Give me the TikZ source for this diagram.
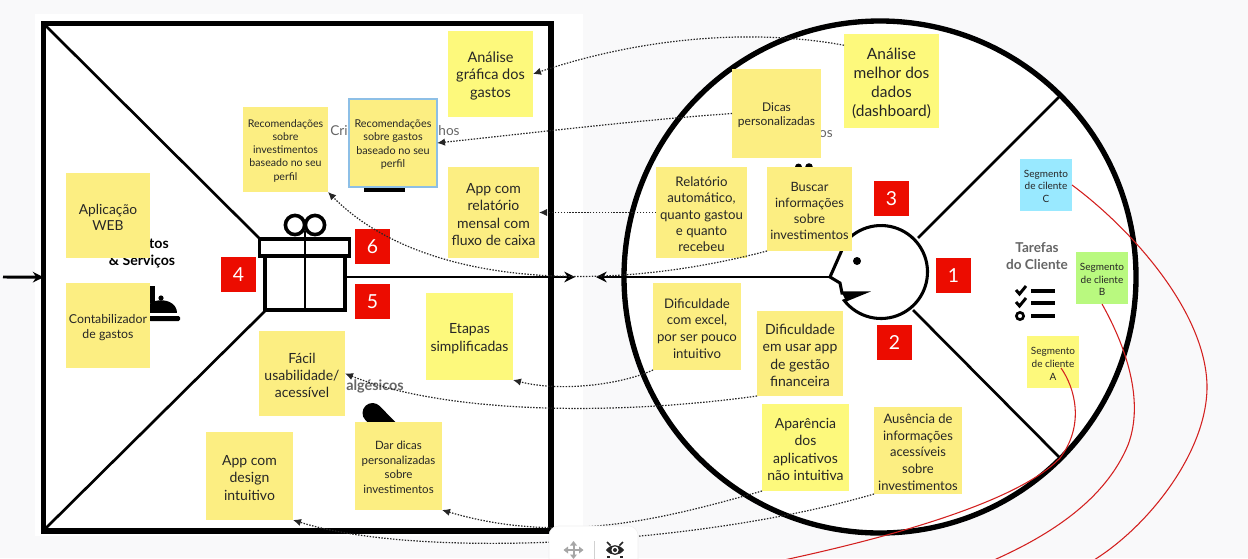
\documentclass[tikz,border=0pt]{standalone}
\usepackage{fontspec}
\setmainfont{Lato}
\usetikzlibrary{arrows.meta}
\definecolor{stickyA}{HTML}{FCEE82}
\definecolor{stickyB}{HTML}{FDF97C}
\definecolor{stickyC}{HTML}{99E9FF}
\definecolor{stickyD}{HTML}{B9F97F}
\definecolor{pagebg}{HTML}{F9F9FA}
\definecolor{redbox}{HTML}{EC0C00}
\definecolor{redline}{HTML}{D3201F}
\definecolor{bluebd}{HTML}{8DBFE6}
\definecolor{ghost}{HTML}{666666}
\tikzset{
  sticky/.style={inner sep=0pt,outer sep=0pt,align=center,text=black!85},
  dotlink/.style={draw=black!85,line width=.9pt,dash pattern=on 1.1pt off 1.1pt,-{Latex[length=6pt,width=5.5pt]}},
  redcurve/.style={draw=redline,line width=.8pt},
  heavyarrow/.style={draw=black,line width=2.2pt,-{Stealth[length=8pt,width=8pt]}},
  spoke/.style={draw=black,line width=2pt},
  ghosttext/.style={text=ghost,inner sep=0pt,font={\fontsize{10.2}{12}\selectfont}},
  boldtext/.style={text=black,inner sep=0pt,font={\fontsize{10.6}{12}\selectfont\bfseries}},
  numbox/.style={fill=redbox,text=white,inner sep=0pt,minimum width=26.25pt,minimum height=26.25pt,font={\fontsize{14.5}{16}\selectfont}},
  gift/.style={draw=black,line width=2.7pt,fill=white,inner sep=0pt}
}
\newcommand\sticky[8][stickyA]{%
  \pgfmathsetmacro\sx{(#3+#5)/2}\pgfmathsetmacro\sy{(#4+#6)/2}%
  \pgfmathsetlengthmacro\sw{(#5-#3)*0.75}\pgfmathsetlengthmacro\sh{(#6-#4)*0.75}%
  \pgfmathsetmacro\fa{#7*0.75}\pgfmathsetmacro\fb{#8*0.75}%
  \node[sticky,fill=#1,minimum width=\sw,minimum height=\sh,font={\fontsize{\fa}{\fb}\selectfont}] (#2) at (\sx,\sy) {\rule{0pt}{1em}\stickytext};%
}
\begin{document}
\begin{tikzpicture}[x=0.75pt,y=-0.75pt]
\useasboundingbox (0,0) rectangle (1248,558);
\clip (0,0) rectangle (1248,558);
\fill[pagebg] (0,0) rectangle (1248,558);
\fill[white] (35,14) rectangle (583,536);

% value map square and customer circle
\node[draw=black,line width=4.1pt,minimum width=380.6pt,minimum height=380.6pt,inner sep=0pt,outer sep=0pt] (vp) at (297.25,277.25) {};
\node[circle,draw=black,fill=white,line width=4pt,minimum size=384pt,inner sep=0pt,outer sep=0pt] (cs) at (880,277) {};

% diagonals
\coordinate (tl) at (46,26); \coordinate (bl) at (46,528);
\coordinate (dg1) at (260,239); \coordinate (dg2) at (265,311);
\draw[spoke] (tl) -- (dg1);
\draw[spoke] (bl) -- (dg2);
\coordinate (sp1a) at (918,238); \coordinate (sp1b) at (1062,94);
\coordinate (sp2a) at (913,310); \coordinate (sp2b) at (1061,459);
\draw[spoke] (sp1a) -- (sp1b);
\draw[spoke] (sp2a) -- (sp2b);

% gift icon
\draw[black,line width=2.7pt] (295,225) circle[radius=9.6];
\draw[black,line width=2.7pt] (315,225) circle[radius=9.6];
\node[gift,minimum width=60pt,minimum height=40.5pt] (giftbody) at (305,283) {};
\node[gift,minimum width=67.5pt,minimum height=12.5pt] (giftlid) at (304.5,247.5) {};
\coordinate (rib1) at (305,231); \coordinate (rib2) at (305,310);
\draw[black,line width=2.2pt] (rib1) -- (rib2);

% face
\draw[black,line width=2.3pt,fill=white,line join=miter]
  plot[smooth,samples=60,domain=219:502] ({881+46.5*cos(\x)},{272+46.5*sin(\x)})
  -- (863,293) -- (842,293) -- (840,283) -- (830,277) -- (845,243);
\fill[black] (845,299) -- (863,293) -- (842,293) -- cycle;
\fill[black] (857,261) circle[radius=4];
\coordinate (nose) at (830,277);

% main arrows
\coordinate (tipR) at (575,277); \coordinate (tipL) at (596,277);
\coordinate (startL) at (3,277);
\draw[heavyarrow] (giftbody.east |- tipR) -- (tipR);
\draw[heavyarrow] (nose) -- (tipL);
\draw[heavyarrow] (startL) -- (vp.west);

% fragments of the template under the notes
\node[ghosttext] (t1) at (339,131) {Cri};
\node[ghosttext] (t2) at (449,131) {hos};
\node[ghosttext] (t3) at (826,134) {os};
\node[ghosttext,font={\fontsize{10.8}{12}\selectfont\bfseries}] (t4) at (375,386) {algésicos};
\node[boldtext] (t5) at (159,244) {tos};
\node[boldtext] (t6) at (142,262) {\& Serviços};
\node[ghosttext,align=center,font={\fontsize{10.2}{12.6}\selectfont\bfseries}] (t7) at (1037,256) {Tarefas\\do Cliente};

% template icons
\fill[black] (364,185) rectangle (405,192);
\fill[black] (798.5,167) circle[radius=3.5];
\fill[black] (809,167) circle[radius=3.8];
\fill[black] (150,286) rectangle (155,303);
\fill[black] (145,313) .. controls (145,296) and (177,296) .. (177,313) -- cycle;
\fill[black] (161,298) circle[radius=2.6];
\fill[black,rounded corners=1pt] (149,316) rectangle (180,321);
\draw[black,line width=15pt,line cap=round] (372.5,413) -- (395,436);

% checklist icon
\draw[black,line width=2.2pt] (1016,290) -- (1019.5,294) -- (1026,286);
\draw[black,line width=2.2pt] (1016,302) -- (1019.5,306) -- (1026,298);
\draw[black,line width=2pt] (1020,316) circle[radius=3.6];
\draw[black,line width=2.5pt] (1031,291) -- (1055,291);
\draw[black,line width=2.5pt] (1031,303) -- (1055,303);
\draw[black,line width=2.5pt] (1031,316) -- (1055,316);

% numbers
\node[numbox] (n1) at (953.5,275.5) {1};
\node[numbox] (n2) at (894.5,342.5) {2};
\node[numbox] (n3) at (891.5,198.5) {3};
\node[numbox] (n4) at (238.5,274.5) {4};
\node[numbox] (n5) at (372.5,301.5) {5};
\node[numbox] (n6) at (372.5,246.5) {6};

% sticky notes
\def\stickytext{Análise\\gráfica dos\\gastos}\sticky[stickyB]{anagraf}{448}{31}{533}{117}{14.5}{17.5}
\def\stickytext{Recomendações\\sobre\\investimentos\\baseado no seu\\perfil}\sticky{recinv}{243}{107}{328}{192}{10.6}{13.1}
\def\stickytext{Recomendações\\sobre gastos\\baseado no seu\\perfil}\sticky{recgas}{349}{99}{437}{187}{10.8}{13.5}
\draw[bluebd,line width=1.1pt] (recgas.south west) rectangle (recgas.north east);
\def\stickytext{Aplicação\\WEB}\sticky{appweb}{66}{173}{150}{258}{13.8}{16.7}
\def\stickytext{Contabilizador\\de gastos}\sticky{contab}{66}{283}{150}{368}{12.3}{15}
\def\stickytext{Fácil\\usabilidade/\\acessível}\sticky{facil}{259}{331}{345}{416}{14}{17.3}
\def\stickytext{App com\\design\\intuitivo}\sticky{appdes}{206}{432}{293}{520}{14}{17.8}
\def\stickytext{Dar dicas\\personalizadas\\sobre\\investimentos}\sticky{dardic}{355}{422}{442}{510}{11.5}{14.5}
\def\stickytext{App com\\relatório\\mensal com\\fluxo de caixa}\sticky{apprel}{448}{167}{539}{258}{14}{17.3}
\def\stickytext{Etapas\\simplificadas}\sticky[stickyB]{etapas}{426}{293}{513}{380}{14}{17.5}
\def\stickytext{Dicas\\personalizadas}\sticky{dicas}{732}{69}{821}{158}{12}{14.7}
\def\stickytext{Relatório\\automático,\\quanto gastou\\e quanto\\recebeu}\sticky{relat}{656}{167}{747}{258}{13.2}{16.2}
\def\stickytext{Buscar\\informações\\sobre\\investimentos}\sticky{buscar}{767}{167}{852}{251}{12.8}{16}
\def\stickytext{Dificuldade\\com excel,\\por ser pouco\\intuitivo}\sticky{difexc}{653}{283}{741}{370}{13.2}{16.7}
\def\stickytext{Dificuldade\\em usar app\\de gestão\\financeira}\sticky{difapp}{757}{311}{843}{396}{14}{17.4}
\def\stickytext{Aparência\\dos\\aplicativos\\não intuitiva}\sticky[stickyB]{aparen}{762}{404}{849}{491}{14}{17.6}
\def\stickytext{Ausência de\\informações\\acessíveis\\sobre\\investimentos}\sticky{ausenc}{874}{407}{962}{494}{13}{16.6}
\def\stickytext{Análise\\melhor dos\\dados\\(dashboard)}\sticky[stickyB]{anamel}{844}{34}{939}{128}{15.5}{19}
\def\stickytext{Segmento\\de cilente\\C}\sticky[stickyC]{segc}{1020}{159}{1072}{211}{10}{12.2}
\def\stickytext{Segmento\\de cliente\\B}\sticky[stickyD]{segb}{1076}{252}{1128}{304}{10}{12.4}
\def\stickytext{Segmento\\de cliente\\A}\sticky[stickyB]{sega}{1027}{336}{1079}{388}{10}{13}

% dotted connectors
\draw[dotlink] (anamel.143) .. controls (750,28) and (640,38) .. (anagraf.east);
\draw[dotlink] (dicas.west) .. controls (640,120) and (540,132) .. (recgas.east);
\draw[dotlink] (relat.west) -- (apprel.east);
\draw[dotlink] (buscar.south west) .. controls (600,295) and (420,285) .. (recinv.south east);
\draw[dotlink] (difexc.south west) .. controls (620,385) and (560,392) .. (etapas.south east);
\draw[dotlink] (difapp.south west) .. controls (620,415) and (450,415) .. (facil.east);
\draw[dotlink] (aparen.south west) .. controls (660,520) and (560,545) .. (dardic.south east);
\draw[dotlink] (ausenc.south west) .. controls (700,545) and (420,560) .. (appdes.south east);

% toolbar
\draw[black!6,fill=white,rounded corners=7pt] (549,526) rectangle (638,575);
\draw[black!18,line width=.6pt] (594,541) -- (594,562);
\draw[black!35,line width=1.5pt] (566,550) -- (581,550);
\draw[black!35,line width=1.5pt] (573.5,543) -- (573.5,557);
\fill[black!35] (563.5,550) -- (568,546.5) -- (568,553.5) -- cycle;
\fill[black!35] (583.5,550) -- (579,546.5) -- (579,553.5) -- cycle;
\fill[black!35] (573.5,541) -- (570,545.5) -- (577,545.5) -- cycle;
\fill[black!35] (573.5,559) -- (570,554.5) -- (577,554.5) -- cycle;
\fill[black!85] (606,550) .. controls (611,543.5) and (619,543.5) .. (624,550) .. controls (619,556.5) and (611,556.5) .. (606,550) -- cycle;
\fill[white] (615,550) circle[radius=3.6];
\fill[black!85] (615,550) circle[radius=2];
\draw[black!85,line width=1.1pt] (607,542) -- (610.5,545.5);
\draw[black!85,line width=1.1pt] (623,542) -- (619.5,545.5);
\fill[black!85] (607,556) rectangle (610,558);
\fill[black!85] (620,556) rectangle (623,558);

% red curves
\coordinate (astart) at (1061,368);
\coordinate (ea) at (784,560); \coordinate (eb) at (994,560); \coordinate (ec) at (1094,560);
\draw[redcurve] (astart) .. controls (1075,388) and (1085,425) .. (1060,458) .. controls (1020,500) and (900,535) .. (ea);
\draw[redcurve] (segb.south) .. controls (1125,345) and (1145,400) .. (1128,445) .. controls (1105,500) and (1050,535) .. (eb);
\draw[redcurve] (segc.east) .. controls (1130,228) and (1205,310) .. (1207,385) .. controls (1208,450) and (1150,525) .. (ec);
\end{tikzpicture}
\end{document}
